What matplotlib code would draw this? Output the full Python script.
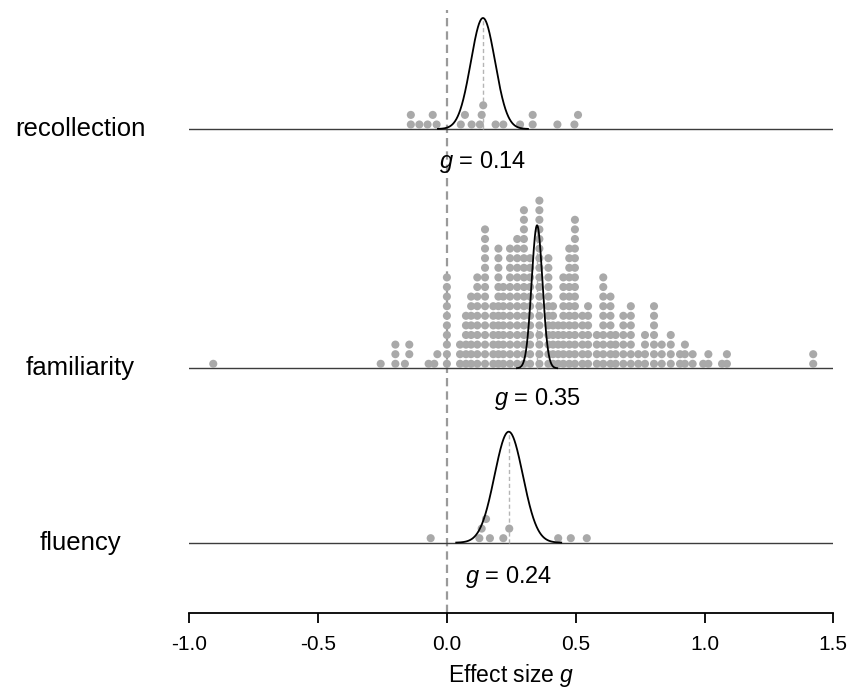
import numpy as np
import matplotlib.pyplot as plt
from matplotlib import transforms

plt.rcParams['font.family'] = ['Liberation Sans', 'DejaVu Sans']
plt.rcParams['mathtext.fontset'] = 'custom'
plt.rcParams['mathtext.rm'] = 'Liberation Sans'
plt.rcParams['mathtext.it'] = 'Liberation Sans:italic'
plt.rcParams['lines.scale_dashes'] = False

# study effect sizes (g)
recollection_g = [-0.140, -0.140, -0.107, -0.075, -0.055, -0.040, 0.054, 0.070,
                  0.096, 0.128, 0.135, 0.141, 0.189, 0.219, 0.284, 0.333, 0.333,
                  0.429, 0.495, 0.509]

fluency_g = [-0.063, 0.126, 0.135, 0.152, 0.167, 0.219, 0.242, 0.432, 0.481, 0.543]

# familiarity has many studies: value of each column and how many share it
familiarity_vals = [-0.907, -0.257, -0.200, -0.163, -0.146, -0.071, -0.049, -0.037,
                    0.000, 0.051, 0.074, 0.094, 0.118, 0.148, 0.180, 0.200, 0.219,
                    0.245, 0.273, 0.299, 0.323, 0.359, 0.394, 0.412, 0.432, 0.452,
                    0.475, 0.497, 0.526, 0.548, 0.582, 0.607, 0.635, 0.655, 0.685,
                    0.714, 0.743, 0.769, 0.804, 0.834, 0.869, 0.905, 0.924, 0.954,
                    0.995, 1.015, 1.068, 1.087, 1.422]
familiarity_counts = [1, 1, 3, 1, 2, 1, 1, 1,
                      10, 3, 6, 8, 10, 15, 7, 13, 9,
                      13, 14, 17, 12, 18, 12, 7, 5, 10,
                      13, 16, 6, 7, 4, 10, 8, 4, 6,
                      7, 2, 4, 7, 3, 4, 2, 3, 2,
                      1, 2, 1, 2, 2]

rows = ['recollection', 'familiarity', 'fluency']
pooled_mean = [0.14, 0.35, 0.24]
pooled_sd = [0.047, 0.021, 0.055]

xticks = [-1.0, -0.5, 0.0, 0.5, 1.0, 1.5]


def stack_dots(values, min_gap):
    # put each dot on the lowest level where it does not hit another one
    xs = np.sort(np.asarray(values, dtype=float))
    placed = {}
    levels = []
    for x in xs:
        k = 0
        while any(abs(x - p) < min_gap for p in placed.get(k, [])):
            k += 1
        placed.setdefault(k, []).append(x)
        levels.append(k)
    return xs, np.array(levels)


def main():
    W, H = 848, 697
    fig = plt.figure(figsize=(W / 100, H / 100), dpi=100)

    # axes in pixel units on y (0 = axis line), g on x
    x0, x1 = 189.3, 833.3
    axis_y = 613.3
    ax = fig.add_axes([x0 / W, (H - axis_y) / H, (x1 - x0) / W, axis_y / H])
    ax.set_xlim(-1.0, 1.5)
    ax.set_ylim(0, axis_y)

    px_per_g = (x1 - x0) / 2.5

    familiarity_g = np.repeat(familiarity_vals, familiarity_counts)
    data = [recollection_g, familiarity_g, fluency_g]

    base_px = [129.0, 368.3, 542.7]
    peak_px = [111, 143, 111]
    label_drop = [33, 31, 34]
    gap_px = [7.0, 4.5, 7.0]

    ax.axvline(0, ymin=0, ymax=(axis_y - 10) / axis_y, color='#9a9a9a',
               lw=1.6, ls=(0, (6.0, 3.6)), zorder=1)

    grid = np.linspace(-1.0, 1.5, 3000)
    lab_tr = transforms.blended_transform_factory(ax.transAxes, ax.transData)

    for i, name in enumerate(rows):
        base = axis_y - base_px[i]
        m, s = pooled_mean[i], pooled_sd[i]

        ax.axhline(base, color='#3c3c3c', lw=1.0, zorder=2)

        # mean marker under the curve
        ax.plot([m, m], [base, base + peak_px[i]], color='#b5b5b5', lw=1.0,
                ls=(0, (3, 2)), zorder=2)

        xs, lv = stack_dots(data[i], gap_px[i] / px_per_g)
        ax.scatter(xs, base + 4.5 + 9.6 * lv, s=34, color='#a9a9a9',
                   edgecolors='none', zorder=3)

        dens = np.exp(-0.5 * ((grid - m) / s) ** 2)
        keep = dens > 1e-3
        ax.plot(grid[keep], base + peak_px[i] * dens[keep], color='black',
                lw=1.3, zorder=4)

        ax.text((80 - x0) / (x1 - x0), base, name, transform=lab_tr,
                ha='center', va='center', fontsize=18.5)
        ax.text(m, base - label_drop[i], '$g$ = %.2f' % m, ha='center',
                va='center', fontsize=17)

    for side in ['left', 'top', 'right']:
        ax.spines[side].set_visible(False)
    ax.spines['bottom'].set_linewidth(1.3)
    ax.set_yticks([])
    ax.set_xticks(xticks)
    ax.set_xticklabels(['%.1f' % t for t in xticks])
    ax.tick_params(axis='x', direction='out', length=7.5, width=1.3,
                   labelsize=15, pad=8)
    ax.set_xlabel('Effect size $g$', fontsize=16.5, labelpad=6)

    fig.savefig('out.png', dpi=100)


if __name__ == '__main__':
    main()
